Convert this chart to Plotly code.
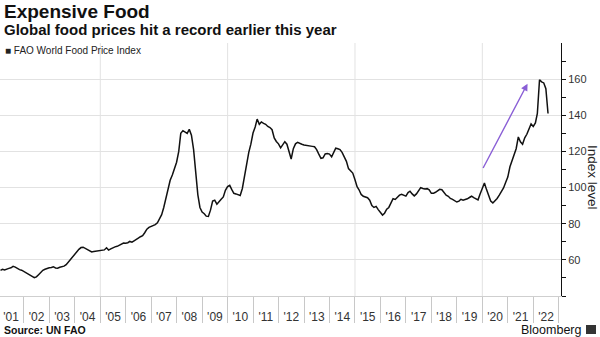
import pandas as pd
import plotly.graph_objects as go

# FAO World Food Price Index (2014-2016 = 100), monthly, Jan 2001 - Jul 2022
fao_index = [
    54.2, 54.8, 54.4, 55.0, 55.3, 55.6, 56.4, 56.0, 55.2, 54.6, 54.3, 53.5,  # 2001
    52.8, 52.0, 51.4, 50.9, 50.2, 50.6, 51.8, 53.0, 54.2, 54.8, 55.4, 55.6,  # 2002
    55.8, 56.2, 55.5, 55.4, 55.9, 56.0, 56.5, 57.3, 58.6, 60.2, 61.8, 63.0,  # 2003
    64.5, 65.8, 66.8, 67.0, 66.4, 65.6, 64.9, 64.4, 64.6, 64.8, 65.2, 65.0,  # 2004
    65.2, 65.5, 66.7, 65.4, 66.1, 66.8, 67.2, 67.5, 68.2, 68.7, 69.3, 69.2,  # 2005
    69.5, 70.2, 69.8, 70.5, 71.5, 72.0, 72.8, 73.4, 75.0, 77.0, 78.0, 78.5,  # 2006
    79.0, 79.5, 80.5, 82.5, 85.0, 89.0, 94.0, 99.0, 104.0, 107.0, 111.0, 114.0,  # 2007
    120.0, 130.0, 131.5, 130.5, 130.0, 132.2, 129.0, 121.0, 110.0, 96.0, 89.0, 86.5,  # 2008
    85.5, 84.2, 84.0, 87.5, 92.5, 93.0, 90.8, 92.5, 93.5, 94.8, 98.5, 100.5,  # 2009
    101.2, 99.0, 96.8, 96.5, 96.2, 95.6, 99.5, 106.5, 113.5, 119.5, 124.0, 130.2,  # 2010
    133.5, 137.9, 135.0, 136.3, 135.5, 135.0, 133.8, 133.2, 132.0, 127.5, 125.5, 124.2,  # 2011
    122.0, 123.5, 125.4, 124.0, 119.5, 115.8, 121.5, 124.2, 125.0, 124.3, 124.0, 123.6,  # 2012
    123.3, 123.2, 123.0, 122.8, 122.6, 121.0, 118.5, 116.2, 116.5, 118.6, 118.9, 118.5,  # 2013
    117.0, 119.5, 121.8, 121.5, 121.0, 119.5, 117.0, 114.5, 110.5, 109.0, 108.0, 104.5,  # 2014
    100.5, 98.8, 96.2, 95.2, 94.6, 94.4, 93.0, 90.0, 89.0, 89.6, 87.8, 86.2,  # 2015
    84.8, 85.8, 88.0, 89.0, 91.5, 93.8, 93.4, 94.5, 95.8, 96.3, 95.8, 95.3,  # 2016
    97.2, 98.0, 96.5, 95.4, 96.5, 98.2, 100.0, 99.5, 99.2, 99.4, 98.7, 96.8,  # 2017
    96.8, 97.4, 98.2, 99.0, 98.8, 97.5, 95.8, 95.2, 94.0, 93.5, 92.8, 92.0,  # 2018
    92.5, 93.5, 93.0, 93.2, 93.8, 94.5, 95.2, 94.4, 93.8, 93.2, 96.5, 99.5,  # 2019
    102.5, 99.0, 95.0, 92.5, 91.5, 92.5, 94.0, 95.8, 97.5, 99.8, 102.8, 105.8,  # 2020
    111.5, 115.0, 118.5, 121.5, 128.0, 125.3, 124.0, 127.5, 129.5, 132.5, 135.2, 133.8,  # 2021
    135.8, 141.0, 159.7, 158.5, 157.9, 154.7, 141.0,  # 2022
]
months = pd.date_range("2001-01-31", periods=len(fao_index), freq="ME")

y_labels = [60, 80, 100, 120, 140, 160]
y_minor = [40, 50, 70, 90, 110, 130, 150, 170]
grid_years = ["2005-01-01", "2010-01-01", "2015-01-01", "2020-01-01"]

# trend arrow drawn over the recent surge
arrow_from = ("2020-01-01", 110)
arrow_to = ("2021-10-10", 157.5)

FONT = "Liberation Sans"
INK = "#222222"
GRID = "#e2e2e2"

fig = go.Figure()

# vertical gridlines every five years
for gx in grid_years:
    fig.add_shape(type="line", xref="x", yref="paper", x0=gx, x1=gx, y0=0, y1=1,
                  line=dict(color=GRID, width=1), layer="below")

fig.add_trace(go.Scatter(
    x=months, y=fao_index, mode="lines",
    line=dict(color="#111111", width=1.5),
    name="FAO World Food Price Index", showlegend=False,
    hoverinfo="skip",
))

fig.update_layout(
    width=600, height=337,
    margin=dict(l=0, r=39, t=43, b=41),
    paper_bgcolor="white", plot_bgcolor="white",
    font=dict(family=FONT, color=INK),
    xaxis=dict(
        type="date",
        range=["2001-01-24", "2023-02-02"],
        showgrid=False, zeroline=False,
        dtick="M12", tick0="2001-01-01",
        tickformat="'%y", ticklabelmode="period",
        ticks="outside", ticklen=26, tickcolor="#c8c8c8", tickwidth=1,
        ticklabelstandoff=-16,
        tickfont=dict(size=12, color="#333333", family=FONT),
        showline=True, linecolor="#cfcfcf", linewidth=1,
    ),
    yaxis=dict(
        side="right", range=[40, 180],
        tickvals=y_labels,
        showgrid=True, gridcolor=GRID, gridwidth=1,
        zeroline=False,
        showline=True, linecolor="#111111", linewidth=1,
        ticks="outside", ticklen=4, tickcolor="#111111",
        tickfont=dict(size=11, color="#333333", family=FONT),
        minor=dict(tickvals=y_minor, ticks="outside", ticklen=4,
                   tickcolor="#111111", showgrid=False),
    ),
)

fig.add_annotation(
    x=arrow_to[0], y=arrow_to[1], ax=arrow_from[0], ay=arrow_from[1],
    xref="x", yref="y", axref="x", ayref="y",
    showarrow=True, arrowhead=2, arrowsize=1, arrowwidth=1.4,
    arrowcolor="#8a5fd6", text="",
)

# titles and notes
fig.add_annotation(text="<b>Expensive Food</b>", xref="paper", yref="paper",
                   x=0, y=(296 - 11.5) / 253, xanchor="left", yanchor="middle",
                   xshift=2, showarrow=False,
                   font=dict(size=19, color="#111111", family=FONT))
fig.add_annotation(text="<b>Global food prices hit a record earlier this year</b>",
                   xref="paper", yref="paper",
                   x=0, y=(296 - 29) / 253, xanchor="left", yanchor="middle",
                   xshift=2, showarrow=False,
                   font=dict(size=15, color="#111111", family=FONT))
fig.add_annotation(text="■ FAO World Food Price Index", xref="paper", yref="paper",
                   x=0, y=(296 - 50.5) / 253, xanchor="left", yanchor="middle",
                   xshift=3, showarrow=False,
                   font=dict(size=10, color="#222222", family=FONT))
fig.add_annotation(text="Index level", xref="paper", yref="paper",
                   x=1, y=(296 - 177) / 253, xanchor="center", yanchor="middle",
                   xshift=32, textangle=90, showarrow=False,
                   font=dict(size=13.5, color="#222222", family=FONT))
fig.add_annotation(text="<b>Source: UN FAO</b>", xref="paper", yref="paper",
                   x=0, y=(296 - 330.5) / 253, xanchor="left", yanchor="middle",
                   xshift=2, showarrow=False,
                   font=dict(size=10.5, color="#111111", family=FONT))
fig.add_annotation(text="Bloomberg", xref="paper", yref="paper",
                   x=1, y=(296 - 330) / 253, xanchor="right", yanchor="middle",
                   xshift=22, showarrow=False,
                   font=dict(size=12.5, color="#111111", family=FONT))
fig.add_shape(type="rect", xref="paper", yref="paper",
              x0=586 / 561, x1=596 / 561,
              y0=(296 - 334) / 253, y1=(296 - 325) / 253,
              fillcolor="#333333", line=dict(width=0))

fig.write_html("out.html")
